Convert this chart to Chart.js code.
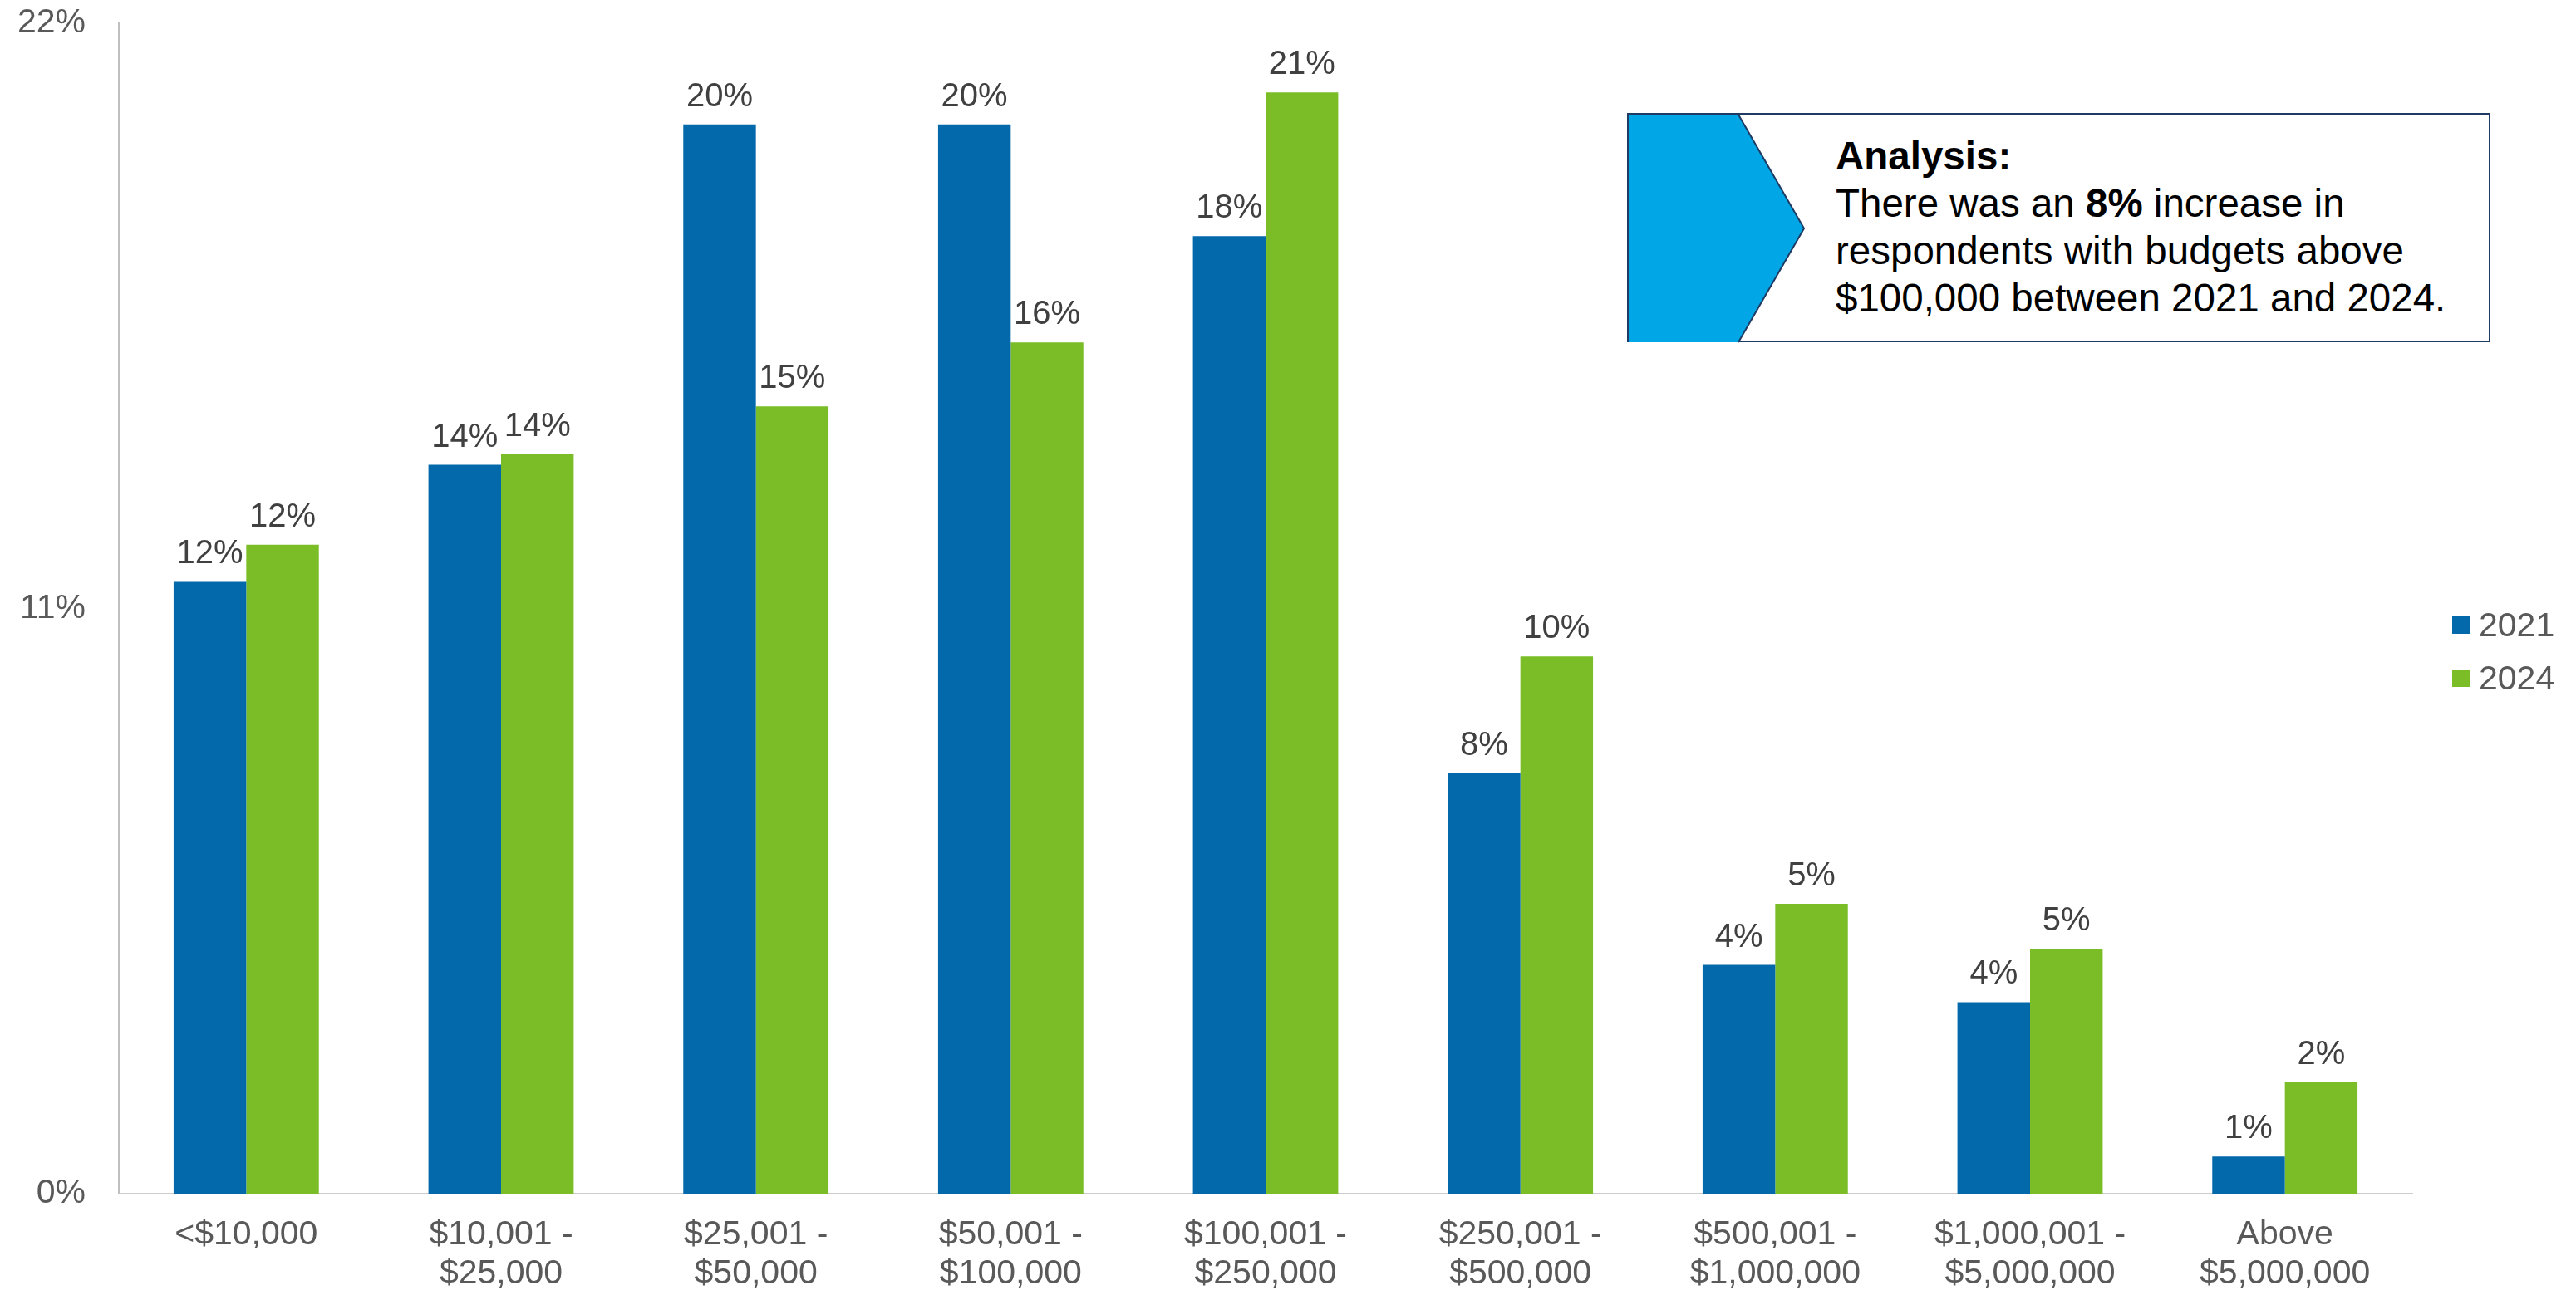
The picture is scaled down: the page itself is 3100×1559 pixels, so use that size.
<!DOCTYPE html>
<html>
<head>
<meta charset="utf-8">
<script src="https://cdn.jsdelivr.net/npm/chart.js@4.4.1/dist/chart.umd.min.js"></script>
<style>
  html, body { margin: 0; padding: 0; background: #ffffff; }
  #wrap { position: relative; width: 3100px; height: 1559px; overflow: hidden; font-family: "Liberation Sans", Arial, sans-serif; }
  #chart { position: absolute; left: 0; top: 0; }
  .legend-item { position: absolute; display: flex; align-items: center; font-size: 41px; color: #595959; white-space: nowrap; }
  .legend-swatch { width: 22px; height: 21px; margin-right: 10px; }
  #analysis { position: absolute; left: 1958px; top: 136px; width: 1039px; height: 276px; box-sizing: border-box; border: 2px solid #1f3b63; background: #ffffff; }
  #analysis svg { position: absolute; left: 0; top: 0; }
  #analysis .txt { position: absolute; left: 249px; top: 20.5px; font-size: 47.5px; line-height: 57px; color: #000000; white-space: nowrap; }
</style>
</head>
<body>
<div id="wrap">
  <canvas id="chart" width="3100" height="1559"></canvas>
  <div id="legend"></div>
  <div id="analysis">
    <svg width="1039" height="276" viewBox="0 0 1039 276">
      <polygon points="0,0 132,0 211,137 132,274 0,274" fill="#00a6e6"/>
      <polyline points="132,0 211,137 132,274" fill="none" stroke="#1f3b63" stroke-width="2"/>
    </svg>
    <div class="txt"><b>Analysis:</b><br>There was an <b>8%</b> increase in<br>respondents with budgets above<br>$100,000 between 2021 and 2024.</div>
  </div>
</div>
<script>
// Budget ranges along the x axis (multi-line labels as arrays)
const categories = [
  '<$10,000',
  ['$10,001 -', '$25,000'],
  ['$25,001 -', '$50,000'],
  ['$50,001 -', '$100,000'],
  ['$100,001 -', '$250,000'],
  ['$250,001 -', '$500,000'],
  ['$500,001 -', '$1,000,000'],
  ['$1,000,001 -', '$5,000,000'],
  ['Above', '$5,000,000']
];

// Share of respondents (%) per budget range
const values2021 = [11.5, 13.7, 20.1, 20.1, 18.0, 7.9, 4.3, 3.6, 0.7];
const values2024 = [12.2, 13.9, 14.8, 16.0, 20.7, 10.1, 5.45, 4.6, 2.1];

const seriesNames = ['2021', '2024'];
const seriesColors = ['#0469aa', '#7abd27'];

// Y axis: 0% .. 22% with a tick every 11%
const yMax = 22;
const yStep = 11;

const FONT = '"Liberation Sans", Arial, sans-serif';

// Percent labels above every bar, rounded to whole numbers
const barValueLabels = {
  id: 'barValueLabels',
  afterDatasetsDraw(chart) {
    const ctx = chart.ctx;
    ctx.save();
    ctx.font = '40px ' + FONT;
    ctx.fillStyle = '#404040';
    ctx.textAlign = 'center';
    ctx.textBaseline = 'alphabetic';
    chart.data.datasets.forEach((ds, di) => {
      const meta = chart.getDatasetMeta(di);
      meta.data.forEach((bar, i) => {
        const v = ds.data[i];
        ctx.fillText(Math.round(v) + '%', bar.x, bar.y - 22);
      });
    });
    ctx.restore();
  }
};

const chart = new Chart(document.getElementById('chart'), {
  type: 'bar',
  data: {
    labels: categories,
    datasets: [
      { label: seriesNames[0], data: values2021, backgroundColor: seriesColors[0] },
      { label: seriesNames[1], data: values2024, backgroundColor: seriesColors[1] }
    ]
  },
  options: {
    responsive: false,
    devicePixelRatio: 1,
    animation: false,
    layout: { padding: { top: 28, right: 197, left: 0, bottom: 0 } },
    datasets: {
      bar: { categoryPercentage: 0.57, barPercentage: 1.0 }
    },
    plugins: {
      legend: { display: false },
      tooltip: { enabled: false },
      title: { display: false }
    },
    scales: {
      x: {
        grid: { display: false, drawTicks: false },
        border: { display: true, color: '#cccccc', width: 2 },
        ticks: {
          color: '#595959',
          font: { family: FONT, size: 41, lineHeight: 1.146 },
          padding: 26,
          maxRotation: 0,
          autoSkip: false
        },
        afterFit(scale) {
          scale.height = 122;
          scale.paddingTop = 0;
          scale.paddingBottom = 0;
        }
      },
      y: {
        min: 0,
        max: yMax,
        grid: { display: false, drawTicks: false },
        border: { display: true, color: '#bfbfbf', width: 2 },
        ticks: {
          stepSize: yStep,
          color: '#595959',
          font: { family: FONT, size: 41 },
          padding: 40,
          callback: (v) => v + '%'
        },
        afterFit(scale) {
          scale.width = 143;
          scale.paddingTop = 0;
          scale.paddingBottom = 0;
        }
      }
    }
  },
  plugins: [barValueLabels]
});

// Legend on the right, built from the chart's datasets
const legendEl = document.getElementById('legend');
chart.data.datasets.forEach((ds, i) => {
  const item = document.createElement('div');
  item.className = 'legend-item';
  item.style.left = '2951px';
  item.style.top = (729 + i * 63.5) + 'px';
  item.style.height = '47px';
  const sw = document.createElement('span');
  sw.className = 'legend-swatch';
  sw.style.background = ds.backgroundColor;
  const tx = document.createElement('span');
  tx.textContent = ds.label;
  item.appendChild(sw);
  item.appendChild(tx);
  legendEl.appendChild(item);
});
</script>
</body>
</html>
